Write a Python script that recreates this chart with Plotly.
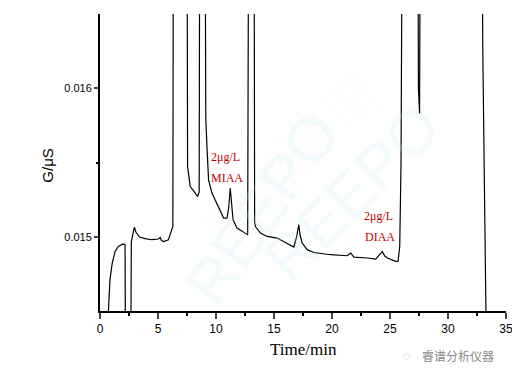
import plotly.graph_objects as go

time_min = [0.60, 0.72, 0.86, 1.05, 1.30, 1.58, 2.01, 2.16, 2.19, 2.66, 2.70, 2.84, 2.96, 3.10,
            3.40, 3.89, 4.47, 5.04, 5.19, 5.30, 5.47, 5.90, 6.20, 6.28, 6.33, 7.50, 7.55, 7.78,
            8.21, 8.41, 8.55, 8.60, 9.05, 9.12, 9.22, 9.36, 9.65, 9.94, 10.37, 10.66, 10.95,
            11.10, 11.23, 11.35, 11.47, 11.81, 12.53, 12.73, 12.82, 13.28, 13.33, 13.40, 13.83,
            14.41, 15.27, 15.84, 16.42, 16.71, 16.95, 17.14, 17.25, 17.43, 17.86, 18.44, 19.88,
            21.32, 21.61, 21.89, 23.05, 23.77, 24.10, 24.34, 24.55, 24.78, 25.49, 25.70, 25.84,
            25.95, 26.07, 27.40, 27.45, 27.55, 27.62, 32.95, 33.00, 33.25, 33.30]
conductance = [0.01430, 0.01450, 0.014711, 0.01482, 0.014901, 0.014935, 0.014951, 0.014946,
               0.01430, 0.01430, 0.014966, 0.01502, 0.015065, 0.01503, 0.014998, 0.014987,
               0.014980, 0.014985, 0.014995, 0.014975, 0.014968, 0.014980, 0.015047, 0.015069,
               0.0175, 0.0175, 0.01547, 0.015338, 0.015294, 0.015271, 0.01530, 0.0175, 0.0175,
               0.01580, 0.015607, 0.015383, 0.015294, 0.015249, 0.015182, 0.015126, 0.015126,
               0.01520, 0.015327, 0.01520, 0.015114, 0.015059, 0.015025, 0.015013, 0.0175,
               0.0175, 0.01510, 0.015069, 0.015025, 0.015002, 0.014991, 0.014968, 0.014939,
               0.014931, 0.01500, 0.015081, 0.01501, 0.014958, 0.014913, 0.014894, 0.014879,
               0.014872, 0.014890, 0.014863, 0.014857, 0.014850, 0.01488, 0.014901, 0.01487,
               0.014857, 0.014834, 0.014836, 0.014935, 0.01550, 0.0175, 0.0175, 0.01600,
               0.01583, 0.0175, 0.0170, 0.01625, 0.01450, 0.01430]

x_ticks = [0, 5, 10, 15, 20, 25, 30, 35]
y_ticks = [0.015, 0.016]
y_tick_labels = ["0.015", "0.016"]

fig = go.Figure()
fig.add_trace(go.Scatter(x=time_min, y=conductance, mode="lines",
                         line=dict(color="black", width=1.2), showlegend=False,
                         hoverinfo="skip"))

serif = "Liberation Serif, Times New Roman, serif"
sans = "Liberation Sans, Arial, sans-serif"
wm_blue = "rgba(200,236,248,0.22)"
wm_gray = "rgba(215,215,215,0.06)"

annotations = [
    # watermarks
    dict(text="REEPO", x=0.40, y=0.72, xref="paper", yref="paper", showarrow=False,
         textangle=-55, font=dict(size=62, color=wm_blue, family=sans)),
    dict(text="REEPO", x=0.62, y=0.05, xref="paper", yref="paper", showarrow=False,
         textangle=-45, font=dict(size=62, color=wm_blue, family=sans)),
    dict(text="睿谱", x=0.36, y=0.12, xref="paper", yref="paper", showarrow=False,
         textangle=-40, font=dict(size=60, color=wm_gray, family="Noto Sans CJK SC")),
    dict(text="睿谱", x=0.74, y=0.65, xref="paper", yref="paper", showarrow=False,
         textangle=-40, font=dict(size=60, color=wm_gray, family="Noto Sans CJK SC")),
    # labels
    dict(text="2μg/L", x=10.8, y=0.015538, xref="x", yref="y", showarrow=False,
         font=dict(size=12, color="#c00000", family=serif)),
    dict(text="MIAA", x=10.95, y=0.015397, xref="x", yref="y", showarrow=False,
         font=dict(size=12, color="#c00000", family=serif)),
    dict(text="2μg/L", x=24.0, y=0.015137, xref="x", yref="y", showarrow=False,
         font=dict(size=12, color="#c00000", family=serif)),
    dict(text="DIAA", x=24.1, y=0.014995, xref="x", yref="y", showarrow=False,
         font=dict(size=12, color="#c00000", family=serif)),
    # axis titles
    dict(text="G/μS", x=-0.13, y=0.49, xref="paper", yref="paper", showarrow=False,
         textangle=-90, yanchor="middle", xanchor="center",
         font=dict(size=15, color="black", family=sans)),
    dict(text="Time/min", x=0.5, y=-0.131, xref="paper", yref="paper", showarrow=False,
         yanchor="middle", xanchor="center",
         font=dict(size=17, color="black", family=serif)),
    dict(text="睿谱分析仪器", x=0.975, y=-0.15, xref="paper", yref="paper", showarrow=False,
         xanchor="right", yanchor="middle",
         font=dict(size=12, color="#888888", family="Noto Sans CJK SC")),
    dict(text="◌", x=0.77, y=-0.15, xref="paper", yref="paper", showarrow=False,
         yanchor="middle", font=dict(size=13, color="#aaaaaa", family=sans)),
]

fig.update_layout(
    width=512, height=378,
    margin=dict(l=100, r=6, t=14, b=67, autoexpand=False),
    paper_bgcolor="white", plot_bgcolor="white",
    annotations=annotations,
    xaxis=dict(range=[0, 35], tickvals=x_ticks, ticks="outside", ticklen=6, tickwidth=2,
               showline=True, linecolor="black", linewidth=2, showgrid=False, zeroline=False,
               ticklabeloverflow="allow", automargin=False,
               tickfont=dict(size=12, family=sans, color="black"),
               minor=dict(dtick=2.5, ticks="outside", ticklen=3, tickwidth=2, tickcolor="black")),
    yaxis=dict(range=[0.0145, 0.0165], tickvals=y_ticks, ticktext=y_tick_labels,
               ticks="outside", ticklen=4, tickwidth=2, automargin=False,
               showline=True, linecolor="black", linewidth=2, showgrid=False, zeroline=False,
               tickfont=dict(size=11, family=sans, color="black"),
               minor=dict(tickvals=[0.0155], ticks="outside", ticklen=2, tickwidth=2,
                          tickcolor="black")),
)

fig.write_html("out.html", config={"displayModeBar": False},
               post_script="document.body.style.margin='0';document.body.style.overflow='hidden';")
